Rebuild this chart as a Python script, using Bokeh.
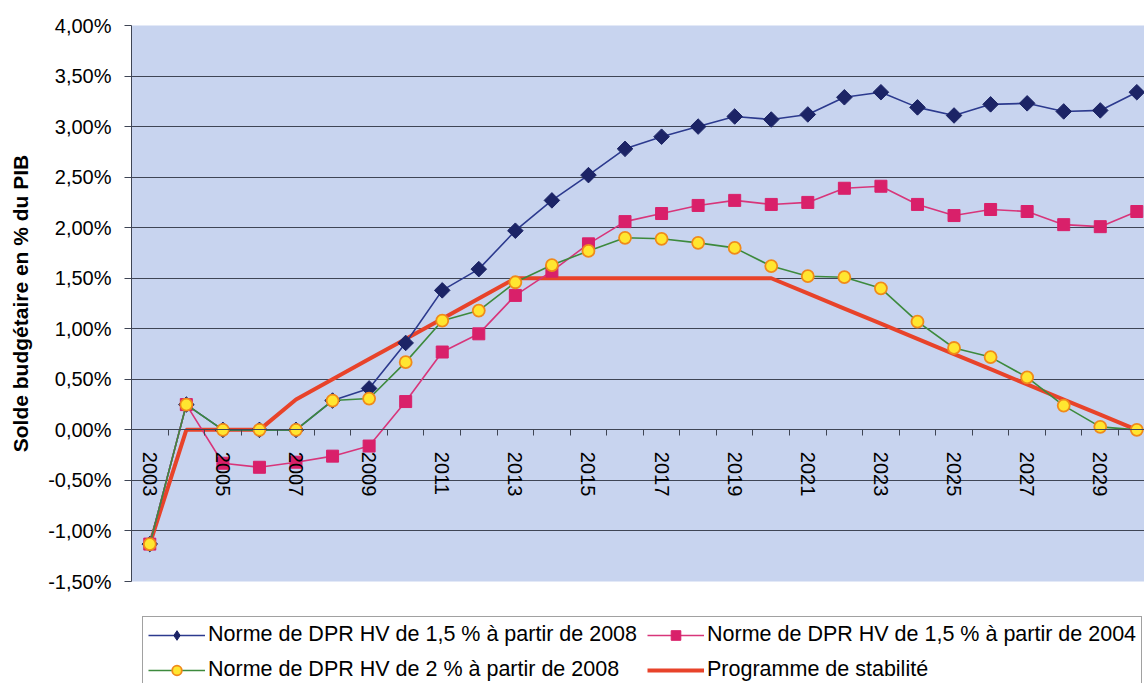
import math
from bokeh.plotting import figure
from bokeh.layouts import column
from bokeh.models import (FixedTicker, CustomJSTickFormatter, Legend, LegendItem,
                          Range1d)
from bokeh.embed import file_html
from bokeh.resources import INLINE

years = list(range(2003, 2031))
norme_15_2008 = [-1.13, 0.25, 0.00, 0.00, 0.00, 0.29, 0.41, 0.86, 1.38, 1.59, 1.97, 2.27, 2.52, 2.78,
                 2.90, 3.00, 3.10, 3.07, 3.12, 3.29, 3.34, 3.19, 3.11, 3.22, 3.23, 3.15, 3.16, 3.34]
norme_15_2004 = [-1.13, 0.25, -0.33, -0.37, -0.32, -0.26, -0.16, 0.28, 0.77, 0.95, 1.33, 1.57, 1.84, 2.06,
                 2.14, 2.22, 2.27, 2.23, 2.25, 2.39, 2.41, 2.23, 2.12, 2.18, 2.16, 2.03, 2.01, 2.16]
norme_2_2008 = [-1.13, 0.25, 0.00, 0.00, 0.00, 0.29, 0.31, 0.67, 1.08, 1.18, 1.46, 1.63, 1.77, 1.90,
                1.89, 1.85, 1.80, 1.62, 1.52, 1.51, 1.40, 1.07, 0.81, 0.72, 0.52, 0.24, 0.03, 0.00]
programme = [-1.13, 0.00, 0.00, 0.00, 0.30, 0.50, 0.70, 0.90, 1.10, 1.30, 1.50, 1.50, 1.50, 1.50,
             1.50, 1.50, 1.50, 1.50, 1.35, 1.20, 1.05, 0.90, 0.75, 0.60, 0.45, 0.30, 0.15, 0.00]

labels = ["Norme de DPR HV de 1,5 % à partir de 2008",
          "Norme de DPR HV de 1,5 % à partir de 2004",
          "Norme de DPR HV de 2 % à partir de 2008",
          "Programme de stabilité"]
y_ticks = [-1.5, -1.0, -0.5, 0.0, 0.5, 1.0, 1.5, 2.0, 2.5, 3.0, 3.5, 4.0]
x_label_years = list(range(2003, 2030, 2))
y_title = "Solde budgétaire en % du PIB"

FONT = "Liberation Sans"
GRID = "#3f4555"

BLUE_LINE, BLUE_MARK = "#2c3a8e", "#1c2466"
PINK_LINE, PINK_MARK = "#d8357a", "#d9206a"
GREEN_LINE, YELLOW, ORANGE = "#3d8a3d", "#ffe630", "#f08a1a"
RED = "#e8432a"

p = figure(width=1144, height=600, output_backend="svg", toolbar_location=None,
           x_range=Range1d(2002.5, 2030.21), y_range=Range1d(-1.5, 4.0),
           min_border_left=131, min_border_right=0, min_border_top=25,
           min_border_bottom=19)
p.background_fill_color = "#c8d4ef"
p.border_fill_color = "white"
p.outline_line_color = None

p.xgrid.visible = False
p.ygrid.ticker = FixedTicker(ticks=y_ticks)
p.ygrid.grid_line_color = GRID
p.ygrid.grid_line_width = 1

ya = p.yaxis[0]
ya.ticker = FixedTicker(ticks=y_ticks)
ya.formatter = CustomJSTickFormatter(code="return tick.toFixed(2).replace('.', ',') + '%';")
ya.major_label_text_font = FONT
ya.major_label_text_font_size = "20px"
ya.major_label_text_color = "black"
ya.major_tick_out = 7
ya.major_tick_in = 0
ya.minor_tick_out = 0
ya.minor_tick_in = 0
ya.major_label_standoff = 13
ya.axis_line_color = GRID
ya.major_tick_line_color = GRID
ya.axis_label = y_title
ya.axis_label_text_font = FONT
ya.axis_label_text_font_size = "21px"
ya.axis_label_text_font_style = "bold"
ya.axis_label_text_color = "black"
ya.axis_label_standoff = 13

xa = p.xaxis[0]
xa.fixed_location = 0
xa.ticker = FixedTicker(ticks=x_label_years,
                        minor_ticks=[y - 0.5 for y in years] + [years[-1] + 0.5])
xa.formatter = CustomJSTickFormatter(code="return tick.toFixed(0);")
xa.major_label_orientation = "vertical"
xa.major_label_text_font = FONT
xa.major_label_text_font_size = "20px"
xa.major_label_text_color = "black"
xa.major_tick_out = 0
xa.major_tick_in = 0
xa.minor_tick_out = 6
xa.minor_tick_in = 0
xa.major_label_standoff = 16
xa.axis_line_color = GRID
xa.minor_tick_line_color = GRID

p.line(years, programme, line_color=RED, line_width=4)
p.line(years, norme_15_2008, line_color=BLUE_LINE, line_width=1.6)
p.scatter(years, norme_15_2008, marker="square", angle=math.pi / 4, size=11,
          fill_color=BLUE_MARK, line_color=BLUE_MARK)
p.line(years, norme_15_2004, line_color=PINK_LINE, line_width=1.6)
p.scatter(years, norme_15_2004, marker="square", size=12,
          fill_color=PINK_MARK, line_color=PINK_MARK)
p.line(years, norme_2_2008, line_color=GREEN_LINE, line_width=1.6)
p.scatter(years, norme_2_2008, marker="circle", size=12,
          fill_color=YELLOW, line_color=ORANGE, line_width=1.8)

# legend panel (second figure below the chart; its frame aligns with the chart's)
q = figure(width=1144, height=83, output_backend="svg", toolbar_location=None,
           x_range=Range1d(0, 1), y_range=Range1d(0, 1),
           x_axis_type=None, y_axis_type=None,
           min_border_left=0, min_border_right=0, min_border_top=0, min_border_bottom=0)
q.outline_line_color = None
q.background_fill_color = "white"
q.border_fill_color = "white"
q.xgrid.visible = False
q.ygrid.visible = False

ox, oy = [-5], [-5]
lb = q.line(ox, oy, line_color=BLUE_LINE, line_width=1.6)
mb = q.scatter(ox, oy, marker="diamond", size=12,
               fill_color=BLUE_MARK, line_color=BLUE_MARK)
lp = q.line(ox, oy, line_color=PINK_LINE, line_width=1.6)
mp = q.scatter(ox, oy, marker="square", size=12, fill_color=PINK_MARK, line_color=PINK_MARK)
lg = q.line(ox, oy, line_color=GREEN_LINE, line_width=1.6)
mg = q.scatter(ox, oy, marker="circle", size=12, fill_color=YELLOW, line_color=ORANGE,
               line_width=1.8)
lr = q.line(ox, oy, line_color=RED, line_width=4)

legend = Legend(items=[
    LegendItem(label=labels[0], renderers=[lb, mb]),
    LegendItem(label=labels[1], renderers=[lp, mp]),
    LegendItem(label=labels[2], renderers=[lg, mg]),
    LegendItem(label=labels[3], renderers=[lr]),
], location=(11, -5), orientation="horizontal", ncols=2)
legend.label_text_font = FONT
legend.label_text_font_size = "21.5px"
legend.label_text_color = "black"
legend.glyph_width = 57
legend.glyph_height = 24
legend.label_height = 22
legend.label_standoff = 3
legend.padding = 5
legend.spacing = 10
legend.margin = 0
legend.border_line_color = "#444444"
legend.border_line_width = 1
legend.background_fill_color = "white"
legend.background_fill_alpha = 1.0
q.add_layout(legend, "center")

layout = column(p, q, spacing=0)
open("out.html", "w").write(file_html(layout, INLINE))
